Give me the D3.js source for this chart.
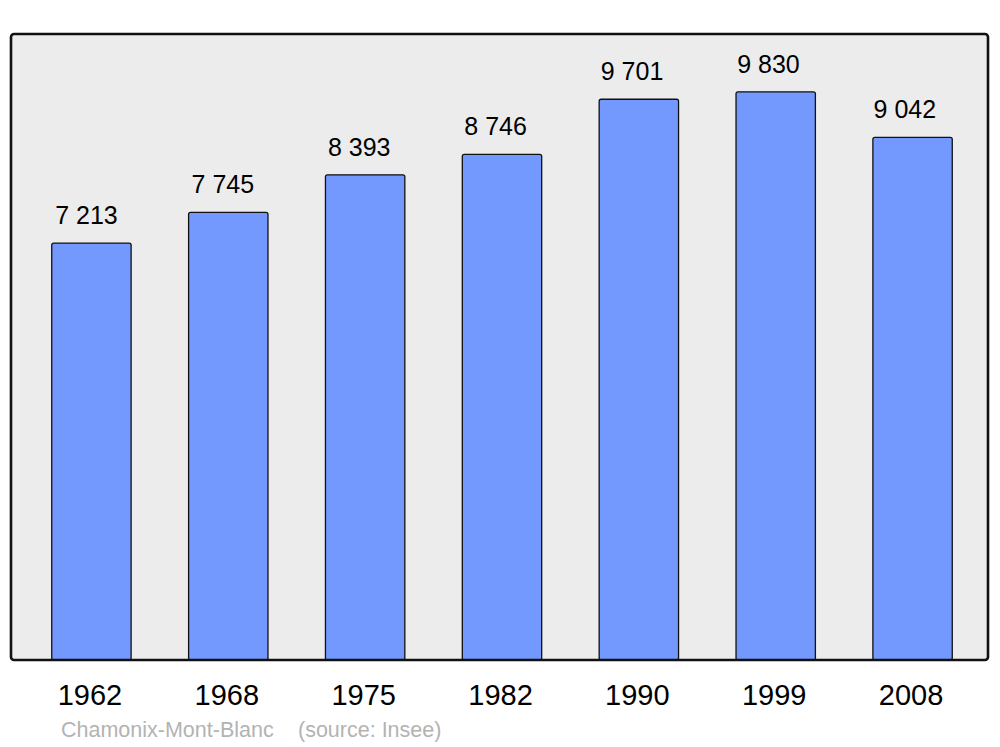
<!DOCTYPE html>
<html><head><meta charset="utf-8">
<script src="https://cdn.jsdelivr.net/npm/d3@7"></script>
<style>body{margin:0;background:#fff}svg{display:block}</style>
</head><body>
<svg id="chart" width="1000" height="747"></svg>
<script>
const years = ["1962","1968","1975","1982","1990","1999","2008"];
const population = [7213, 7745, 8393, 8746, 9701, 9830, 9042];
const valueLabels = ["7 213","7 745","8 393","8 746","9 701","9 830","9 042"];
const footerName = "Chamonix-Mont-Blanc";
const footerSource = "(source: Insee)";

const svg = d3.select("#chart");
const font = "'Liberation Sans', Arial, sans-serif";
const panel = {x0: 11, y0: 34, x1: 988, y1: 660};

svg.append("rect")
  .attr("x", panel.x0).attr("y", panel.y0)
  .attr("width", panel.x1 - panel.x0).attr("height", panel.y1 - panel.y0)
  .attr("rx", 3).attr("ry", 3)
  .attr("fill", "#ececec");

const x = d3.scaleBand().domain(years).range([23, 981]).paddingInner(0.42).paddingOuter(0.21);
const y = d3.scaleLinear().domain([0, 10830]).range([panel.y1, panel.y0]);

const data = years.map((yr, i) => ({yr, v: population[i], lab: valueLabels[i], i}));

svg.selectAll("rect.bar").data(data).enter().append("rect")
  .attr("class", "bar")
  .attr("x", d => x(d.yr))
  .attr("y", d => y(d.v))
  .attr("width", x.bandwidth())
  .attr("height", d => y(0) - y(d.v))
  .attr("rx", 2).attr("ry", 2)
  .attr("fill", "#7399ff")
  .attr("stroke", "#111").attr("stroke-width", 1.3);

svg.selectAll("text.val").data(data).enter().append("text")
  .attr("class", "val")
  .attr("x", d => x(d.yr) + x.bandwidth() / 2 - 5 - d.i * 0.45)
  .attr("y", d => y(d.v) - 19)
  .attr("text-anchor", "middle")
  .attr("font-family", font).attr("font-size", 25)
  .attr("fill", "#000")
  .text(d => d.lab);

// frame on top
svg.append("rect")
  .attr("x", panel.x0).attr("y", panel.y0)
  .attr("width", panel.x1 - panel.x0).attr("height", panel.y1 - panel.y0)
  .attr("rx", 3).attr("ry", 3)
  .attr("fill", "none").attr("stroke", "#111").attr("stroke-width", 2.6);

const xAxis = d3.axisBottom(x).tickSize(0).tickPadding(0);
const gx = svg.append("g").attr("transform", `translate(-1.5,${panel.y1})`).call(xAxis);
gx.select(".domain").remove();
gx.selectAll("text")
  .attr("font-family", font).attr("font-size", 29)
  .attr("fill", "#000").attr("dy", null).attr("y", 45);

svg.append("text").attr("x", 61).attr("y", 737)
  .attr("font-family", font).attr("font-size", 21.5).attr("fill", "#b3b3b3")
  .text(footerName);
svg.append("text").attr("x", 298).attr("y", 737)
  .attr("font-family", font).attr("font-size", 21.5).attr("fill", "#b3b3b3")
  .text(footerSource);
</script>
</body></html>
